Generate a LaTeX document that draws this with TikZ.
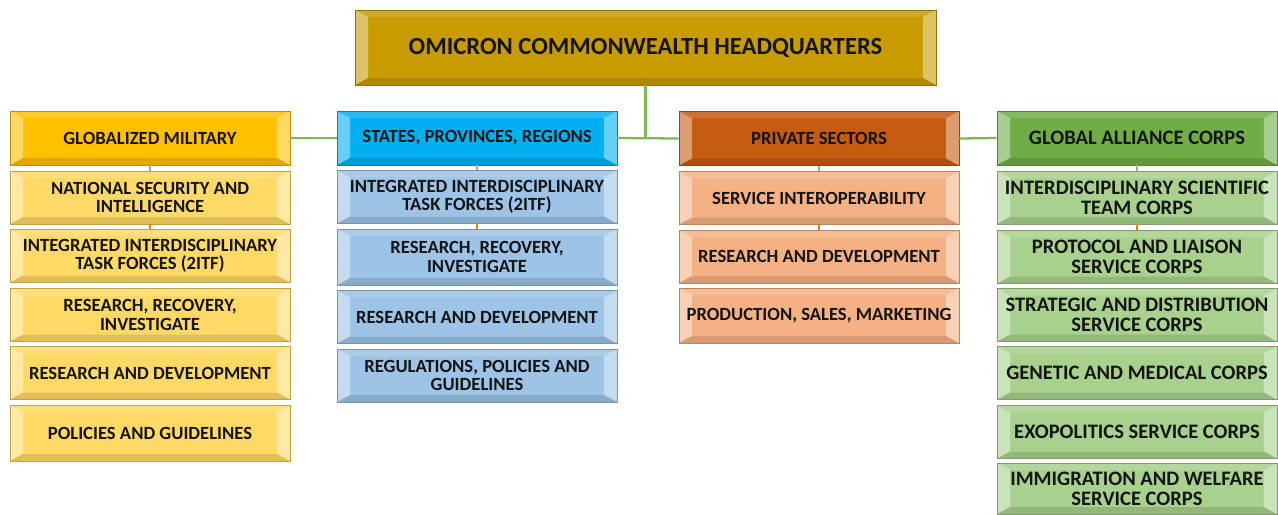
\documentclass[tikz,border=0pt]{standalone}
\usepackage{fontspec}
\setmainfont{Carlito}
\usetikzlibrary{calc}

\definecolor{hqgold}{HTML}{C89B00}
\definecolor{milhead}{HTML}{FFC000}
\definecolor{milbox}{HTML}{FFD966}
\definecolor{stahead}{HTML}{00B0F0}
\definecolor{stabox}{HTML}{9DC3E6}
\definecolor{prihead}{HTML}{C55A11}
\definecolor{pribox}{HTML}{F4B183}
\definecolor{glohead}{HTML}{70AD47}
\definecolor{globox}{HTML}{A9D18E}
\definecolor{linkgreen}{HTML}{7DB757}

\tikzset{
  bevel/.style={draw=#1!75!black, line width=0.4pt, fill=#1,
    path picture={
      \fill[white, opacity=0.4] (path picture bounding box.north west) -- ++(0.26cm,-0.14cm)
        -- ($(path picture bounding box.south west)+(0.26cm,0.14cm)$) -- (path picture bounding box.south west) -- cycle;
      \fill[white, opacity=0.4] (path picture bounding box.north east) -- ++(-0.26cm,-0.14cm)
        -- ($(path picture bounding box.south east)+(-0.26cm,0.14cm)$) -- (path picture bounding box.south east) -- cycle;
      \fill[black, opacity=0.12] (path picture bounding box.south west) -- ++(0.26cm,0.14cm)
        -- ($(path picture bounding box.south east)+(-0.26cm,0.14cm)$) -- (path picture bounding box.south east) -- cycle;
      \fill[white, opacity=0.15] (path picture bounding box.north west) -- ++(0.26cm,-0.14cm)
        -- ($(path picture bounding box.north east)+(-0.26cm,-0.14cm)$) -- (path picture bounding box.north east) -- cycle;
    }},
  unit/.style={bevel=#1, minimum width=5.6cm, minimum height=1.06cm, align=center,
    inner sep=1pt, font=\bfseries\fontsize{10.6}{10.4}\selectfont, text=black!92},
  head/.style={unit=#1, minimum height=1.08cm},
  corps/.style={unit=#1, font=\bfseries\fontsize{11.7}{11.2}\selectfont},
  link/.style={draw=linkgreen, line width=1.3pt},
  tick/.style={draw=#1, line width=1pt}
}

\begin{document}
\begin{tikzpicture}[x=0.02cm, y=-0.02cm]
			%%%%% START %%%%%
			\useasboundingbox (0, 0) rectangle (1278, 514);

			\node[bevel=hqgold, minimum width=11.62cm, minimum height=1.5cm,
			      font=\bfseries\fontsize{14}{16}\selectfont, text=black!92] (hq) at (645.5, 47.5)
			      {OMICRON COMMONWEALTH HEADQUARTERS};

			% globalized military
			\node[head=milhead] (mil) at (150, 138) {GLOBALIZED MILITARY};
			\node[unit=milbox] (mil1) at (150, 197.5) {NATIONAL SECURITY AND\\INTELLIGENCE};
			\node[unit=milbox] (mil2) at (150, 256) {INTEGRATED INTERDISCIPLINARY\\TASK FORCES (2ITF)};
			\node[unit=milbox] (mil3) at (150, 315) {RESEARCH, RECOVERY,\\INVESTIGATE};
			\node[unit=milbox] (mil4) at (150, 373) {RESEARCH AND DEVELOPMENT};
			\node[unit=milbox, minimum height=1.12cm] (mil5) at (150, 433) {POLICIES AND GUIDELINES};

			% states, provinces, regions
			\node[head=stahead] (sta) at (477, 138) {STATES, PROVINCES, REGIONS};
			\node[unit=stabox] (sta1) at (477, 197) {INTEGRATED INTERDISCIPLINARY\\TASK FORCES (2ITF)};
			\node[unit=stabox, minimum height=1.12cm] (sta2) at (477, 257) {RESEARCH, RECOVERY,\\INVESTIGATE};
			\node[unit=stabox] (sta3) at (477, 317) {RESEARCH AND DEVELOPMENT};
			\node[unit=stabox] (sta4) at (477, 375.5) {REGULATIONS, POLICIES AND\\GUIDELINES};

			% private sectors
			\node[head=prihead] (pri) at (819, 138.5) {PRIVATE SECTORS};
			\node[unit=pribox] (pri1) at (819, 198) {SERVICE INTEROPERABILITY};
			\node[unit=pribox] (pri2) at (819, 256.5) {RESEARCH AND DEVELOPMENT};
			\node[unit=pribox, minimum height=1.1cm] (pri3) at (819, 315.5) {PRODUCTION, SALES, MARKETING};

			% global alliance corps
			\node[corps=glohead, minimum height=1.08cm] (glo) at (1137, 138) {GLOBAL ALLIANCE CORPS};
			\node[corps=globox] (glo1) at (1137, 197.5) {INTERDISCIPLINARY SCIENTIFIC\\TEAM CORPS};
			\node[corps=globox] (glo2) at (1137, 257) {PROTOCOL AND LIAISON\\SERVICE CORPS};
			\node[corps=globox] (glo3) at (1137, 315) {STRATEGIC AND DISTRIBUTION\\SERVICE CORPS};
			\node[corps=globox] (glo4) at (1137, 373) {GENETIC AND MEDICAL CORPS};
			\node[corps=globox] (glo5) at (1137, 432) {EXOPOLITICS SERVICE CORPS};
			\node[corps=globox, minimum height=1.02cm] (glo6) at (1137, 488.5) {IMMIGRATION AND WELFARE\\SERVICE CORPS};

			% green links
			\coordinate (hub) at (hq.south |- sta.east);
			\draw[link] (hq.south) -- (hub);
			\draw[link] (mil.east) -- (sta.west);
			\draw[link] (sta.east) -- (pri.west);
			\draw[link] (pri.east) -- (glo.west);

			% small ticks between boxes
			\draw[tick=gray!70] (mil.south) -- (mil1.north);
			\draw[tick=gray!70] (sta.south) -- (sta1.north);
			\draw[tick=gray!70] (pri.south) -- (pri1.north);
			\draw[tick=gray!70] (glo.south) -- (glo1.north);
			\draw[tick=orange!70!brown] (mil1.south) -- (mil2.north);
			\draw[tick=orange!70!brown] (sta1.south) -- (sta2.north);
			\draw[tick=orange!70!brown] (pri1.south) -- (pri2.north);
			\draw[tick=orange!70!brown] (glo1.south) -- (glo2.north);

			%%%%% END %%%%%
\end{tikzpicture}
\end{document}
